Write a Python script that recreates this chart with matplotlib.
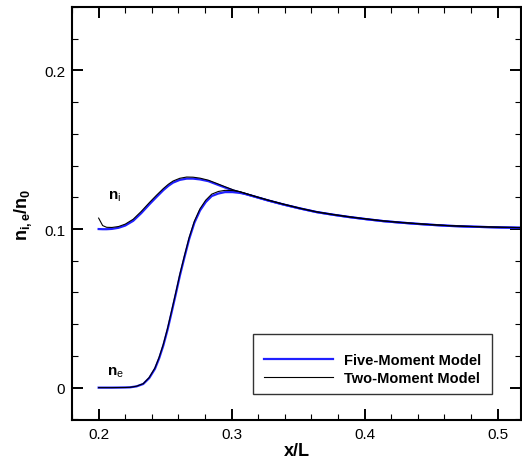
import matplotlib
matplotlib.use("Agg")
import matplotlib.pyplot as plt
from matplotlib.patches import Rectangle
from matplotlib.ticker import MultipleLocator

plt.rcParams.update({
    'font.family': 'Liberation Sans',
    'mathtext.fontset': 'custom',
    'mathtext.rm': 'Liberation Sans',
    'mathtext.it': 'Liberation Sans:italic',
    'mathtext.bf': 'Liberation Sans:bold',
    'font.size': 11,
})

# ion density
x_i = [0.200, 0.203, 0.206, 0.210, 0.215, 0.220, 0.226, 0.232, 0.2386, 0.2436,
       0.2486, 0.2525, 0.256, 0.261, 0.2662, 0.271, 0.2762, 0.2825, 0.2887, 0.295,
       0.3012, 0.310, 0.3188, 0.3275, 0.3388, 0.3513, 0.3639, 0.3765, 0.389, 0.4015,
       0.414, 0.4265, 0.439, 0.4515, 0.464, 0.4765, 0.489, 0.5029, 0.5175]
ni_five = [0.1000, 0.0999, 0.0999, 0.1001, 0.1008, 0.1022, 0.1052, 0.1100, 0.1160, 0.1203,
           0.1245, 0.1273, 0.1293, 0.1310, 0.1318, 0.1318, 0.1313, 0.1302, 0.1282, 0.1262,
           0.1243, 0.1222, 0.1201, 0.1180, 0.1155, 0.1130, 0.1107, 0.1090, 0.1075, 0.1062,
           0.1050, 0.1041, 0.1033, 0.1026, 0.1020, 0.1016, 0.1013, 0.1010, 0.1008]
ni_two = [0.1069, 0.1022, 0.1011, 0.1010, 0.1016, 0.1031, 0.1062, 0.1111, 0.1171, 0.1214,
          0.1255, 0.1283, 0.1303, 0.1320, 0.1328, 0.1327, 0.1321, 0.1308, 0.1288, 0.1267,
          0.1247, 0.1225, 0.1203, 0.1182, 0.1157, 0.1131, 0.1108, 0.1091, 0.1076, 0.1063,
          0.1051, 0.1042, 0.1034, 0.1027, 0.1021, 0.1017, 0.1014, 0.1011, 0.1009]

# electron density
x_e = [0.200, 0.210, 0.220, 0.2236, 0.2285, 0.2335, 0.238, 0.2423, 0.2455, 0.2486,
       0.2518, 0.2549, 0.258, 0.2611, 0.2646, 0.2681, 0.272, 0.2762, 0.2805, 0.285,
       0.290, 0.295, 0.3006, 0.3062, 0.310, 0.3188, 0.3275, 0.3388, 0.3513, 0.3639,
       0.3765, 0.389, 0.4015, 0.414, 0.4265, 0.439, 0.4515, 0.464, 0.4765, 0.489,
       0.5029, 0.5175]
ne_five = [0.0, 0.0, 0.0001, 0.0002, 0.0008, 0.0023, 0.0060, 0.0118, 0.0185, 0.0265,
           0.0365, 0.0476, 0.0590, 0.0707, 0.0825, 0.0938, 0.1040, 0.1117, 0.1170, 0.1208,
           0.1224, 0.1233, 0.1233, 0.1228, 0.1222, 0.1201, 0.1180, 0.1155, 0.1130, 0.1107,
           0.1090, 0.1075, 0.1062, 0.1050, 0.1041, 0.1033, 0.1026, 0.1020, 0.1016, 0.1013,
           0.1010, 0.1008]
ne_two = [0.0, 0.0, 0.0001, 0.0002, 0.0009, 0.0025, 0.0064, 0.0124, 0.0192, 0.0273,
          0.0374, 0.0486, 0.0600, 0.0717, 0.0835, 0.0948, 0.1050, 0.1128, 0.1182, 0.1220,
          0.1237, 0.1244, 0.1243, 0.1236, 0.1226, 0.1203, 0.1182, 0.1157, 0.1131, 0.1108,
          0.1091, 0.1076, 0.1063, 0.1051, 0.1042, 0.1034, 0.1027, 0.1021, 0.1017, 0.1014,
          0.1011, 0.1009]

fig = plt.figure(figsize=(5.22, 4.64), dpi=100)
ax = fig.add_axes([0.138, 0.0927, 0.860, 0.890])

l5, = ax.plot(x_i, ni_five, color='#2020ff', lw=1.6, label='Five-Moment Model')
ax.plot(x_e, ne_five, color='#2020ff', lw=1.6)
l2, = ax.plot(x_i, ni_two, color='black', lw=0.8, label='Two-Moment Model')
ax.plot(x_e, ne_two, color='black', lw=0.8)

ax.text(0.2123, 0.121, r'$\mathbf{n}_\mathregular{i}$', fontsize=11, ha='center', va='center')
ax.text(0.213, 0.0102, r'$\mathbf{n}_\mathregular{e}$', fontsize=11, ha='center', va='center')

ax.set_xlim(0.18, 0.5175)
ax.set_ylim(-0.0204, 0.24)
ax.xaxis.set_minor_locator(MultipleLocator(0.02))
ax.yaxis.set_minor_locator(MultipleLocator(0.02))
ax.set_xticks([0.2, 0.3, 0.4, 0.5])
ax.set_xticklabels(['0.2', '0.3', '0.4', '0.5'])
ax.set_yticks([0, 0.1, 0.2])
ax.set_yticklabels(['0', '0.1', '0.2'])
ax.tick_params(which='both', direction='in', top=True, right=True)
ax.tick_params(which='major', length=8, width=1.4, pad=5)
ax.tick_params(which='minor', length=4.3, width=0.8)
for s in ax.spines.values():
    s.set_linewidth(1.5)

ax.set_xlabel('x/L', fontsize=13, fontweight='bold', labelpad=1)
ax.set_ylabel(r'$\mathbf{n_{i,e}/n_0}$', fontsize=13, labelpad=7)

ax.add_patch(Rectangle((0.404, 0.063), 0.531, 0.145, transform=ax.transAxes,
                       fill=False, edgecolor='#333333', lw=1.0, zorder=5))
ax.legend(handles=[l5, l2], loc='center', bbox_to_anchor=(0.670, 0.123),
          frameon=False, handlelength=4.7, handletextpad=0.8, labelspacing=0.25,
          borderpad=0, prop={'weight': 'bold', 'size': 10.5})

fig.savefig('out.png', dpi=100)
